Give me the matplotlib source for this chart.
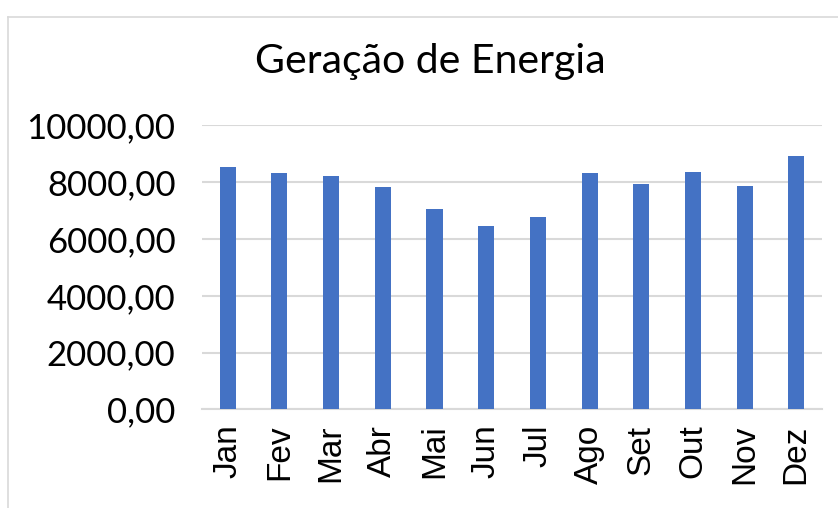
import matplotlib
matplotlib.use("Agg")
import matplotlib.pyplot as plt
from matplotlib.lines import Line2D
from matplotlib.ticker import FuncFormatter

months = ["Jan", "Fev", "Mar", "Abr", "Mai", "Jun", "Jul", "Ago", "Set", "Out", "Nov", "Dez"]
geracao = [8534, 8333, 8238, 7840, 7065, 6466, 6794, 8309, 7946, 8379, 7886, 8932]
y_ticks = [0, 2000, 4000, 6000, 8000, 10000]


def br_fmt(v, pos):
    return f"{v:.2f}".replace(".", ",")


def main():
    fig = plt.figure(figsize=(8.38, 5.08), dpi=100)
    ax = fig.add_axes([0.241, 0.194, 0.740, 0.559])

    ax.bar(range(len(months)), geracao, width=0.31, color="#4472C4", zorder=3)

    ax.set_xlim(-0.5, len(months) - 0.5)
    ax.set_ylim(0, 10000)
    ax.set_yticks(y_ticks)
    ax.yaxis.set_major_formatter(FuncFormatter(br_fmt))
    ax.set_xticks(range(len(months)))
    ax.set_xticklabels(months, rotation=90, fontsize=24, family="Liberation Sans")
    for lab in ax.get_yticklabels():
        lab.set_family("Lato")
        lab.set_fontsize(25)

    ax.tick_params(axis="both", length=0, colors="black")
    ax.tick_params(axis="y", pad=19)
    ax.tick_params(axis="x", pad=11)
    ax.grid(axis="y", color="#D9D9D9", linewidth=1.5, zorder=0)
    for s in ["top", "right", "left"]:
        ax.spines[s].set_visible(False)
    ax.spines["bottom"].set_color("#D9D9D9")
    ax.spines["bottom"].set_linewidth(1.5)

    fig.text(430 / 838, 1 - 62 / 508, "Geração de Energia", family="Lato",
             fontsize=29.5, ha="center", va="center")

    # chart area border (left and top edges visible)
    fig.add_artist(Line2D([8 / 838, 8 / 838], [0, 1 - 17 / 508], color="#D9D9D9", lw=1.2))
    fig.add_artist(Line2D([8 / 838, 1], [1 - 17 / 508, 1 - 17 / 508], color="#D9D9D9", lw=1.2))

    fig.savefig("out.png", dpi=100)


if __name__ == '__main__':
    main()
